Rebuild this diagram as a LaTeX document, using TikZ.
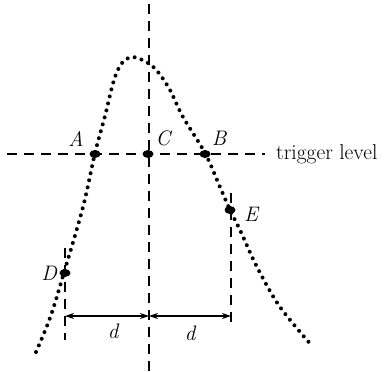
\documentclass[tikz,border=0pt]{standalone}
\usetikzlibrary{arrows.meta,shapes.geometric}
\begin{document}
\begin{tikzpicture}[x=1pt,y=-1pt,
  dashln/.style={line width=1.8pt,dash pattern=on 10pt off 7pt},
  dotcurve/.style={line width=4pt,line cap=round,dash pattern=on 0pt off 7.2pt},
  bigdot/.style={fill=black,ellipse,inner sep=0pt,minimum width=11pt,minimum height=8pt},
  lbl/.style={font=\fontsize{21}{23}\selectfont\itshape,inner sep=1pt},
  dim/.style={line width=1.3pt,{Stealth[length=9pt,width=6pt]}-{Stealth[length=9pt,width=6pt]}}]
\useasboundingbox (0,0) rectangle (386,372);
% axes
\coordinate (vt) at (149,4);
\coordinate (vb) at (149,371);
\coordinate (hl) at (7,154);
\coordinate (hr) at (265,154);
\draw[dashln] (vt) -- (vb);
\draw[dashln] (hl) -- (hr);
\node[anchor=west,font=\fontsize{21.5}{24}\selectfont,inner sep=0pt] (trig) at (276,154) {trigger level};
% curve
\draw[dotcurve] plot[smooth,tension=0.55] coordinates {(36,352) (50,318) (63,276) (83,207) (95,153) (105,116) (114,80) (122,63) (133,57) (148,63) (158,72) (170,90) (183,117) (205,153) (220,187) (230,210) (240,230) (257,267) (280,307) (313,347)};
% points
\node[bigdot] (A) at (95,154) {};
\node[bigdot] (C) at (148,154) {};
\node[bigdot] (B) at (205,154) {};
\node[bigdot] (D) at (65,273) {};
\node[bigdot] (E) at (230,210) {};
\node[lbl] (lA) at (76,139) {A};
\node[lbl] (lC) at (163,138) {C};
\node[lbl] (lB) at (219,138) {B};
\node[lbl] (lD) at (49,273) {D};
\node[lbl] (lE) at (251,214) {E};
% dimension guides
\coordinate (dt) at (65,248);
\coordinate (db) at (65,340);
\coordinate (et) at (231,193);
\coordinate (eb) at (231,328);
\draw[dashln] (dt) -- (db);
\draw[dashln] (et) -- (eb);
\coordinate (dl) at (65,316);
\coordinate (dm) at (149,316);
\coordinate (dr) at (231,316);
\draw[dim] (dl) -- (dm);
\draw[dim] (dm) -- (dr);
\node[lbl] (d1) at (113,331) {d};
\node[lbl] (d2) at (190,333) {d};
\end{tikzpicture}
\end{document}
